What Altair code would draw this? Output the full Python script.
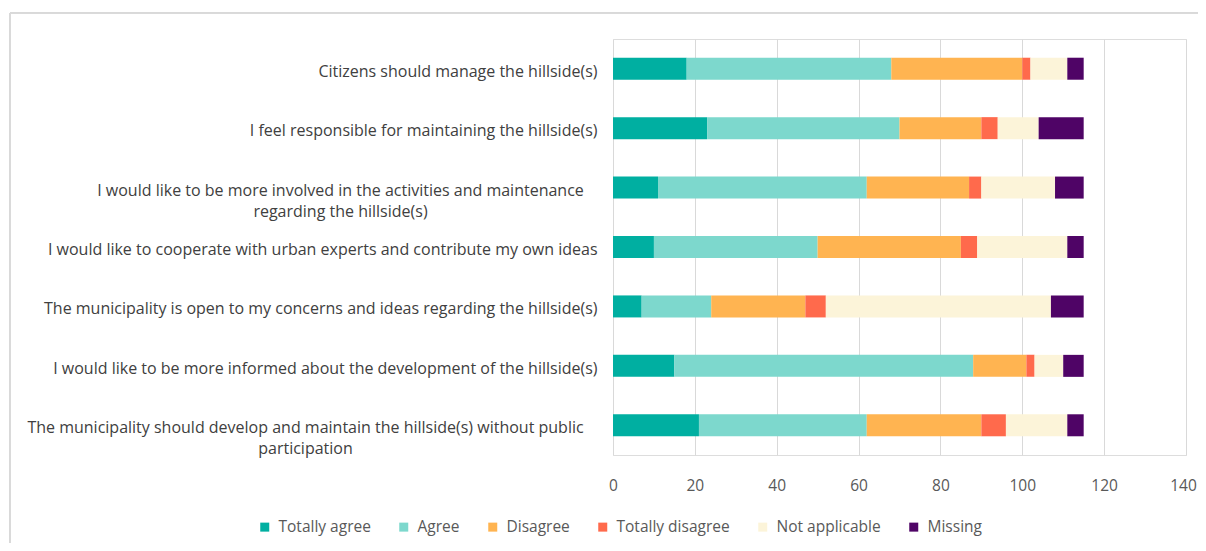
import altair as alt
import pandas as pd

statements = [
    "Citizens should manage the hillside(s)",
    "I feel responsible for maintaining the hillside(s)",
    "I would like to be more involved in the activities and maintenance\nregarding the hillside(s)",
    "I would like to cooperate with urban experts and contribute my own ideas",
    "The municipality is open to my concerns and ideas regarding the hillside(s)",
    "I would like to be more informed about the development of the hillside(s)",
    "The municipality should develop and maintain the hillside(s) without public\nparticipation",
]
responses = ["Totally agree", "Agree", "Disagree", "Totally disagree", "Not applicable", "Missing"]
colors = ["#00AFA1", "#7DD8CD", "#FFB451", "#FF6A4C", "#FCF4D9", "#4F0466"]

totally_agree = [18, 23, 11, 10, 7, 15, 21]
agree = [50, 47, 51, 40, 17, 73, 41]
disagree = [32, 20, 25, 35, 23, 13, 28]
totally_disagree = [2, 4, 3, 4, 5, 2, 6]
not_applicable = [9, 10, 18, 22, 55, 7, 15]
missing = [4, 11, 7, 4, 8, 5, 4]
x_ticks = [0, 20, 40, 60, 80, 100, 120, 140]

series = [totally_agree, agree, disagree, totally_disagree, not_applicable, missing]
rows = []
for ri, (resp, vals) in enumerate(zip(responses, series)):
    for s, v in zip(statements, vals):
        rows.append({"statement": s, "response": resp, "order": ri, "count": v})
df = pd.DataFrame(rows)

FONT = "Open Sans"
FS = 16

bars = alt.Chart(df).mark_bar(size=22).encode(
    y=alt.Y(
        "statement:N",
        sort=statements,
        title=None,
        axis=alt.Axis(
            labelExpr="split(datum.label, '\\n')",
            labelFont=FONT,
            labelFontSize=FS,
            labelColor="#404040",
            labelLineHeight=21,
            labelLimit=1000,
            labelOffset=3,
            ticks=False,
            domain=False,
            labelAlign={
                "condition": {"test": "indexof(datum.value, '\\n') >= 0", "value": "center"},
                "value": "right",
            },
            labelPadding={
                "condition": [
                    {"test": "indexof(datum.value, 'maintenance') >= 0", "value": 273},
                    {"test": "indexof(datum.value, 'public') >= 0", "value": 308},
                ],
                "value": 16,
            },
        ),
    ),
    x=alt.X(
        "count:Q",
        stack="zero",
        title=None,
        scale=alt.Scale(domain=[0, 140], nice=False),
        axis=alt.Axis(
            values=x_ticks,
            labelFont=FONT,
            labelFontSize=15.5,
            labelColor="#595959",
            labelPadding=23,
            labelFlush=False,
            labelOffset={"condition": {"test": "datum.value == 140", "value": -3}, "value": 0},
            ticks=False,
            domain=False,
            grid=True,
            gridColor="#D9D9D9",
            gridWidth=1,
        ),
    ),
    color=alt.Color(
        "response:N",
        sort=responses,
        scale=alt.Scale(domain=responses, range=colors),
        legend=alt.Legend(
            title=None,
            orient="none",
            legendX=-356,
            legendY=480,
            direction="horizontal",
            symbolType="square",
            symbolSize=81,
            symbolStrokeWidth=0,
            labelFont=FONT,
            labelFontSize=15.5,
            labelColor="#595959",
            labelOffset=6,
            columnPadding=25,
        ),
    ),
    order=alt.Order("order:Q"),
)

frame_top = alt.Chart(df).mark_rule(color="#D9D9D9", strokeWidth=1).encode(
    x=alt.value(-603), x2=alt.value(600), y=alt.value(-26)
)
frame_left = alt.Chart(df).mark_rule(color="#D9D9D9", strokeWidth=1).encode(
    x=alt.value(-603), y=alt.value(-26), y2=alt.value(520)
)

chart = alt.layer(frame_top, frame_left, bars).properties(
    width=573,
    height=416,
    padding={"left": 605, "top": 31, "right": 12, "bottom": 88},
    autosize=alt.AutoSizeParams(type="none"),
).configure_view(stroke=None).configure(background="white")

chart.save("out.html", embed_options={"renderer": "svg", "actions": False})
